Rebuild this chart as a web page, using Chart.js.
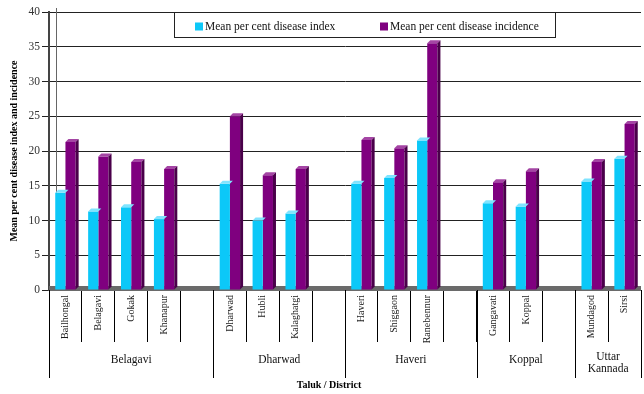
<!DOCTYPE html>
<html lang="en">
<head>
    <meta charset="UTF-8">
    <title>Mean per cent disease index and incidence</title>
    <script src="https://cdn.jsdelivr.net/npm/chart.js"></script>
    <style>body { margin: 0; background: #fff; }</style>
</head>
<body>
    <canvas id="chart" width="644" height="394"></canvas>

    <script>
        // data, blanks are the gaps between districts
        const taluks = ['Bailhongal', 'Belagavi', 'Gokak', 'Khanapur', '',
                        'Dharwad', 'Hubli', 'Kalaghatgi', '',
                        'Haveri', 'Shiggaon', 'Ranebennur', '',
                        'Gangavati', 'Koppal', '',
                        'Mundagod', 'Sirsi'];
        const diseaseIndex = [14.0, 11.3, 11.9, 10.2, null, 15.3, 10.0, 11.0, null, 15.3, 16.1, 21.5, null, 12.5, 12.0, null, 15.6, 18.9];
        const diseaseIncidence = [21.3, 19.2, 18.4, 17.4, null, 25.0, 16.5, 17.4, null, 21.6, 20.4, 35.5, null, 15.5, 17.1, null, 18.4, 23.9];
        const seriesNames = ['Mean per cent disease index', 'Mean per cent disease incidence'];
        const districts = [['Belagavi'], ['Dharwad'], ['Haveri'], ['Koppal'], ['Uttar', 'Kannada']];
        const districtStart = [0, 5, 9, 13, 16];
        const districtEnd = [5, 9, 13, 16, 18];
        const yTicks = [0, 5, 10, 15, 20, 25, 30, 35, 40];
        const xTitle = 'Taluk / District';

        const serif = 'Liberation Serif';
        const colors = ['#0cc8f8', '#7f007f'];
        const sideColors = ['#0096c0', '#4a004a'];
        const topColors = ['#80e4ff', '#a445a4'];
        const depth = 3;

        // floor + back wall, then fake 3d caps on the bars
        const bars3d = {
            id: 'bars3d',
            beforeDatasetsDraw(chart) {
                const {ctx, chartArea} = chart;
                const y0 = chart.scales.y.getPixelForValue(0);
                ctx.save();
                ctx.strokeStyle = '#666';
                ctx.lineWidth = 1;
                ctx.beginPath();
                ctx.moveTo(chartArea.left + 7.5, chartArea.top - 4);
                ctx.lineTo(chartArea.left + 7.5, y0 - 4);
                ctx.stroke();
                ctx.fillStyle = '#6a6a6a';
                ctx.fillRect(chartArea.left, y0 - 4, chartArea.right - chartArea.left, 5);
                ctx.restore();
            },
            afterDatasetsDraw(chart) {
                const ctx = chart.ctx;
                ctx.save();
                chart.data.datasets.forEach((ds, di) => {
                    chart.getDatasetMeta(di).data.forEach((bar, i) => {
                        if (ds.data[i] == null) return;
                        const l = bar.x - bar.width / 2, r = bar.x + bar.width / 2;
                        ctx.fillStyle = topColors[di];
                        ctx.beginPath();
                        ctx.moveTo(l, bar.y);
                        ctx.lineTo(l + depth, bar.y - depth);
                        ctx.lineTo(r + depth, bar.y - depth);
                        ctx.lineTo(r, bar.y);
                        ctx.closePath();
                        ctx.fill();
                        if (di === 1) {
                            ctx.fillStyle = sideColors[di];
                            ctx.beginPath();
                            ctx.moveTo(r, bar.y);
                            ctx.lineTo(r + depth, bar.y - depth);
                            ctx.lineTo(r + depth, bar.base - depth);
                            ctx.lineTo(r, bar.base);
                            ctx.closePath();
                            ctx.fill();
                        }
                    });
                });
                ctx.restore();
            }
        };

        // district row under the taluk names, and the axis title
        const districtAxis = {
            id: 'districtAxis',
            afterDraw(chart) {
                const {ctx, chartArea} = chart;
                const x = chart.scales.x;
                ctx.save();
                ctx.strokeStyle = '#000';
                ctx.lineWidth = 1;
                ctx.fillStyle = '#111';
                ctx.font = '11.5px "' + serif + '"';
                ctx.textAlign = 'center';
                ctx.textBaseline = 'middle';
                districts.forEach((name, k) => {
                    const a = x.getPixelForValue(districtStart[k] - 0.5);
                    const b = x.getPixelForValue(districtEnd[k] - 0.5);
                    [a, b].forEach(px => {
                        ctx.beginPath();
                        ctx.moveTo(Math.round(px) + 0.5, x.top);
                        ctx.lineTo(Math.round(px) + 0.5, x.top + 88);
                        ctx.stroke();
                    });
                    const y = name.length > 1 ? 357 : 360;
                    name.forEach((line, j) => ctx.fillText(line, (a + b) / 2, y + j * 12));
                });
                ctx.fillStyle = '#000';
                ctx.font = 'bold 10px "' + serif + '"';
                ctx.fillText(xTitle, (chartArea.left + chartArea.right) / 2 - 16, 385);
                ctx.restore();
            }
        };

        // boxed legend sitting on top of the plot
        const legendBox = {
            id: 'legendBox',
            afterDatasetsDraw(chart) {
                const {ctx, chartArea} = chart;
                const top = chartArea.top + 0.5;
                ctx.save();
                ctx.fillStyle = '#fff';
                ctx.fillRect(174.5, top, 381, 25);
                ctx.strokeStyle = '#222';
                ctx.lineWidth = 1;
                ctx.strokeRect(174.5, top, 381, 25);
                ctx.font = '11.5px "' + serif + '"';
                ctx.textBaseline = 'middle';
                [195, 380].forEach((lx, i) => {
                    ctx.fillStyle = colors[i];
                    ctx.fillRect(lx, top + 10, 8, 8);
                    ctx.fillStyle = '#111';
                    ctx.fillText(chart.data.datasets[i].label, lx + 10, top + 14.5);
                });
                ctx.restore();
            }
        };

        const ctx = document.getElementById('chart').getContext('2d');
        new Chart(ctx, {
            type: 'bar',
            data: {
                labels: taluks,
                datasets: [
                    {
                        label: seriesNames[0],
                        data: diseaseIndex,
                        backgroundColor: colors[0],
                        categoryPercentage: 0.62,
                        barPercentage: 1
                    },
                    {
                        label: seriesNames[1],
                        data: diseaseIncidence,
                        backgroundColor: colors[1],
                        categoryPercentage: 0.62,
                        barPercentage: 1
                    }
                ]
            },
            options: {
                responsive: false,
                animation: false,
                devicePixelRatio: 1,
                layout: { padding: { top: 12, right: 3, bottom: 0, left: 0 } },
                plugins: {
                    legend: { display: false },
                    tooltip: { enabled: false }
                },
                scales: {
                    x: {
                        grid: { offset: true, drawOnChartArea: false, tickLength: 52, color: '#000', lineWidth: 1 },
                        border: { color: '#555', width: 1 },
                        ticks: {
                            autoSkip: false, minRotation: 90, maxRotation: 90, padding: -47,
                            font: { family: serif, size: 10 }, color: '#1a1a1a'
                        },
                        afterFit(scale) { scale.height = 104; }
                    },
                    y: {
                        min: 0,
                        max: 40,
                        afterBuildTicks(scale) { scale.ticks = yTicks.map(v => ({ value: v })); },
                        grid: { color: '#222', lineWidth: 1, tickLength: 7 },
                        border: { color: '#444', width: 2 },
                        ticks: { padding: 2, font: { family: serif, size: 11.5 }, color: '#333' },
                        title: {
                            display: true, text: 'Mean per cent disease index and incidence', color: '#000',
                            font: { family: serif, size: 10, weight: 'bold' },
                            padding: { top: 8, bottom: 0 }
                        },
                        afterFit(scale) { scale.width = 49; }
                    }
                }
            },
            plugins: [bars3d, districtAxis, legendBox]
        });
    </script>
</body>
</html>
